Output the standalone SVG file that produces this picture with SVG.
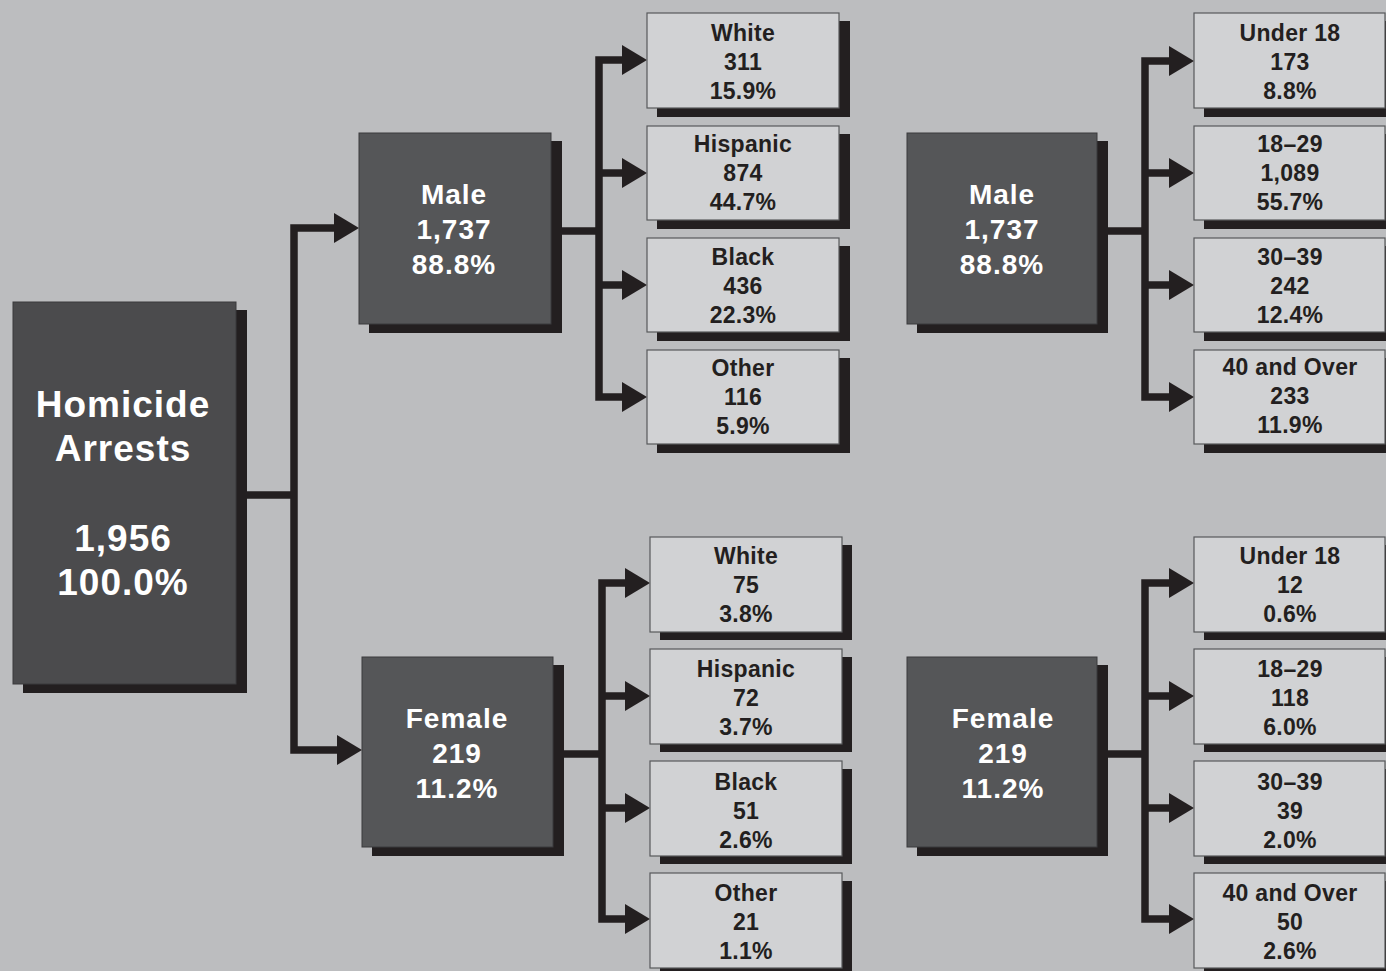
<svg xmlns="http://www.w3.org/2000/svg" xmlns:xlink="http://www.w3.org/1999/xlink" width="1386" height="971" viewBox="0 0 1386 971">
<style>
.sh{fill:#231f20}
.dk{fill:#555658;stroke:#3a3a3c;stroke-width:1}
.rt{fill:#4b4b4d;stroke:#3a3a3c;stroke-width:1}
.lt{fill:#d1d2d4;stroke:#58595b;stroke-width:1.2}
.tw{font-family:"Liberation Sans",Arial,sans-serif;font-weight:bold;fill:#ffffff;text-anchor:middle;letter-spacing:1px}
.tb{font-family:"Liberation Sans",Arial,sans-serif;font-weight:bold;fill:#231f20;text-anchor:middle;font-size:23px;letter-spacing:0.3px}
.ln{fill:none;stroke:#231f20;stroke-width:7.5;stroke-linejoin:miter}
.ah{fill:#231f20}
</style>
<defs>
<polygon id="arr" points="0,0 -25,-15 -25,15"/>
</defs>
<rect x="0" y="0" width="1386" height="971" fill="#bcbdbf"/>

<g id="connectors">
<path class="ln" d="M240 495 H294 M340 228 H294 V750 H342"/>
<use href="#arr" class="ah" x="359" y="228"/>
<use href="#arr" class="ah" x="362" y="750"/>
<path class="ln" d="M551 231 H599 M628 60 H599 V397 H628 M599 173 H628 M599 285 H628"/>
<use href="#arr" class="ah" x="647" y="60"/>
<use href="#arr" class="ah" x="647" y="173"/>
<use href="#arr" class="ah" x="647" y="285"/>
<use href="#arr" class="ah" x="647" y="397"/>
<path class="ln" d="M553 754 H602 M631 583 H602 V919 H631 M602 696 H631 M602 808 H631"/>
<use href="#arr" class="ah" x="650" y="583"/>
<use href="#arr" class="ah" x="650" y="696"/>
<use href="#arr" class="ah" x="650" y="808"/>
<use href="#arr" class="ah" x="650" y="919"/>
<path class="ln" d="M1097 231 H1145 M1175 61 H1145 V397 H1175 M1145 173 H1175 M1145 285 H1175"/>
<use href="#arr" class="ah" x="1194" y="61"/>
<use href="#arr" class="ah" x="1194" y="173"/>
<use href="#arr" class="ah" x="1194" y="285"/>
<use href="#arr" class="ah" x="1194" y="397"/>
<path class="ln" d="M1097 754 H1145 M1175 583 H1145 V919 H1175 M1145 696 H1175 M1145 808 H1175"/>
<use href="#arr" class="ah" x="1194" y="583"/>
<use href="#arr" class="ah" x="1194" y="696"/>
<use href="#arr" class="ah" x="1194" y="808"/>
<use href="#arr" class="ah" x="1194" y="919"/>
</g>

<g id="root">
<rect class="sh" x="23" y="310" width="224" height="383"/>
<rect class="rt" x="13" y="302" width="223" height="382"/>
<text class="tw" x="123" y="417" font-size="37">Homicide</text>
<text class="tw" x="123" y="461" font-size="37">Arrests</text>
<text class="tw" x="123" y="551" font-size="37">1,956</text>
<text class="tw" x="123" y="595" font-size="37">100.0%</text>
</g>

<g id="male">
<rect class="sh" x="369" y="141" width="193" height="192"/>
<rect class="dk" x="359" y="133" width="192" height="191"/>
<text class="tw" x="454" y="204" font-size="28">Male</text>
<text class="tw" x="454" y="239" font-size="28">1,737</text>
<text class="tw" x="454" y="274" font-size="28">88.8%</text>
</g>

<g id="female">
<rect class="sh" x="372" y="665" width="192" height="191"/>
<rect class="dk" x="362" y="657" width="191" height="190"/>
<text class="tw" x="457" y="728" font-size="28">Female</text>
<text class="tw" x="457" y="763" font-size="28">219</text>
<text class="tw" x="457" y="798" font-size="28">11.2%</text>
</g>

<g id="male-age">
<rect class="sh" x="917" y="141" width="191" height="192"/>
<rect class="dk" x="907" y="133" width="190" height="191"/>
<text class="tw" x="1002" y="204" font-size="28">Male</text>
<text class="tw" x="1002" y="239" font-size="28">1,737</text>
<text class="tw" x="1002" y="274" font-size="28">88.8%</text>
</g>

<g id="female-age">
<rect class="sh" x="917" y="665" width="191" height="191"/>
<rect class="dk" x="907" y="657" width="190" height="190"/>
<text class="tw" x="1003" y="728" font-size="28">Female</text>
<text class="tw" x="1003" y="763" font-size="28">219</text>
<text class="tw" x="1003" y="798" font-size="28">11.2%</text>
</g>

<g id="m-white">
<rect class="sh" x="657" y="21" width="193" height="96"/>
<rect class="lt" x="647" y="13" width="192" height="95"/>
<text class="tb" x="743" y="41">White</text><text class="tb" x="743" y="70">311</text><text class="tb" x="743" y="99">15.9%</text>
</g>
<g id="m-hispanic">
<rect class="sh" x="657" y="134" width="193" height="95"/>
<rect class="lt" x="647" y="126" width="192" height="94"/>
<text class="tb" x="743" y="152">Hispanic</text><text class="tb" x="743" y="181">874</text><text class="tb" x="743" y="210">44.7%</text>
</g>
<g id="m-black">
<rect class="sh" x="657" y="246" width="193" height="95"/>
<rect class="lt" x="647" y="238" width="192" height="94"/>
<text class="tb" x="743" y="265">Black</text><text class="tb" x="743" y="294">436</text><text class="tb" x="743" y="323">22.3%</text>
</g>
<g id="m-other">
<rect class="sh" x="657" y="358" width="193" height="95"/>
<rect class="lt" x="647" y="350" width="192" height="94"/>
<text class="tb" x="743" y="376">Other</text><text class="tb" x="743" y="405">116</text><text class="tb" x="743" y="434">5.9%</text>
</g>

<g id="f-white">
<rect class="sh" x="660" y="545" width="192" height="95"/>
<rect class="lt" x="650" y="537" width="192" height="95"/>
<text class="tb" x="746" y="564">White</text><text class="tb" x="746" y="593">75</text><text class="tb" x="746" y="622">3.8%</text>
</g>
<g id="f-hispanic">
<rect class="sh" x="660" y="657" width="192" height="95"/>
<rect class="lt" x="650" y="649" width="192" height="95"/>
<text class="tb" x="746" y="677">Hispanic</text><text class="tb" x="746" y="706">72</text><text class="tb" x="746" y="735">3.7%</text>
</g>
<g id="f-black">
<rect class="sh" x="660" y="769" width="192" height="95"/>
<rect class="lt" x="650" y="761" width="192" height="95"/>
<text class="tb" x="746" y="790">Black</text><text class="tb" x="746" y="819">51</text><text class="tb" x="746" y="848">2.6%</text>
</g>
<g id="f-other">
<rect class="sh" x="660" y="881" width="192" height="95"/>
<rect class="lt" x="650" y="873" width="192" height="95"/>
<text class="tb" x="746" y="901">Other</text><text class="tb" x="746" y="930">21</text><text class="tb" x="746" y="959">1.1%</text>
</g>

<g id="m-under18">
<rect class="sh" x="1204" y="21" width="192" height="96"/>
<rect class="lt" x="1194" y="13" width="191" height="95"/>
<text class="tb" x="1290" y="41">Under 18</text><text class="tb" x="1290" y="70">173</text><text class="tb" x="1290" y="99">8.8%</text>
</g>
<g id="m-18-29">
<rect class="sh" x="1204" y="134" width="192" height="95"/>
<rect class="lt" x="1194" y="126" width="191" height="94"/>
<text class="tb" x="1290" y="152">18–29</text><text class="tb" x="1290" y="181">1,089</text><text class="tb" x="1290" y="210">55.7%</text>
</g>
<g id="m-30-39">
<rect class="sh" x="1204" y="246" width="192" height="95"/>
<rect class="lt" x="1194" y="238" width="191" height="94"/>
<text class="tb" x="1290" y="265">30–39</text><text class="tb" x="1290" y="294">242</text><text class="tb" x="1290" y="323">12.4%</text>
</g>
<g id="m-40over">
<rect class="sh" x="1204" y="358" width="192" height="95"/>
<rect class="lt" x="1194" y="350" width="191" height="94"/>
<text class="tb" x="1290" y="375">40 and Over</text><text class="tb" x="1290" y="404">233</text><text class="tb" x="1290" y="433">11.9%</text>
</g>

<g id="f-under18">
<rect class="sh" x="1204" y="545" width="192" height="95"/>
<rect class="lt" x="1194" y="537" width="191" height="95"/>
<text class="tb" x="1290" y="564">Under 18</text><text class="tb" x="1290" y="593">12</text><text class="tb" x="1290" y="622">0.6%</text>
</g>
<g id="f-18-29">
<rect class="sh" x="1204" y="657" width="192" height="95"/>
<rect class="lt" x="1194" y="649" width="191" height="95"/>
<text class="tb" x="1290" y="677">18–29</text><text class="tb" x="1290" y="706">118</text><text class="tb" x="1290" y="735">6.0%</text>
</g>
<g id="f-30-39">
<rect class="sh" x="1204" y="769" width="192" height="95"/>
<rect class="lt" x="1194" y="761" width="191" height="95"/>
<text class="tb" x="1290" y="790">30–39</text><text class="tb" x="1290" y="819">39</text><text class="tb" x="1290" y="848">2.0%</text>
</g>
<g id="f-40over">
<rect class="sh" x="1204" y="881" width="192" height="95"/>
<rect class="lt" x="1194" y="873" width="191" height="95"/>
<text class="tb" x="1290" y="901">40 and Over</text><text class="tb" x="1290" y="930">50</text><text class="tb" x="1290" y="959">2.6%</text>
</g>
</svg>
